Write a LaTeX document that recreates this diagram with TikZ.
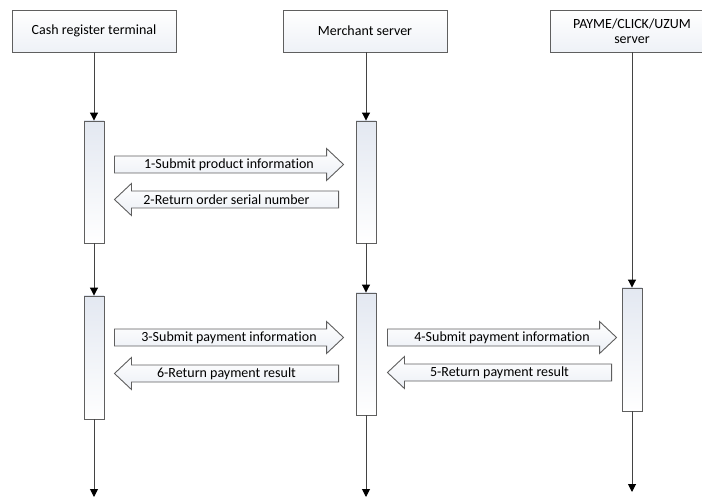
\documentclass[tikz,border=0pt]{standalone}
\usepackage{fontspec}
\setmainfont{Carlito}[Ligatures=NoCommon]
\usetikzlibrary{arrows.meta,calc}

\definecolor{edgegray}{HTML}{5F5F5F}
\definecolor{paleblue}{HTML}{E3E8F1}

% block arrow: start, tip, text, name
\newcommand{\msgarrow}[4]{%
  \draw[msg] let \p1=(#1), \p2=(#2), \n1={sign(\x2-\x1)} in
    (\x1,\y1+8.5pt) -- (\x2-\n1*17pt,\y1+8.5pt) -- (\x2-\n1*17pt,\y1+16pt)
    -- (\x2,\y1) -- (\x2-\n1*17pt,\y1-16pt) -- (\x2-\n1*17pt,\y1-8.5pt)
    -- (\x1,\y1-8.5pt) -- cycle;
  \node[msglabel] (#4) at ($(#1)!0.5!(#2)$) {#3};
}

\begin{document}
\begin{tikzpicture}[x=1pt, y=-1pt,
    head/.style={draw=edgegray, line width=0.9pt, top color=white, bottom color=paleblue!60,
      minimum width=164pt, minimum height=42pt, inner sep=0pt, align=center,
      font=\fontsize{14}{15.5}\selectfont},
    act/.style={draw=edgegray, line width=0.9pt, top color=paleblue, bottom color=white,
      minimum width=20pt, inner sep=0pt},
    life/.style={draw=edgegray!70!black, line width=1pt, -{Triangle[width=8pt,length=8pt,color=black]}},
    msg/.style={draw=edgegray, line width=0.9pt, top color=white, bottom color=paleblue!70},
    msglabel/.style={inner sep=0pt, font=\fontsize{14}{15.5}\selectfont}]
    \useasboundingbox (0,0) rectangle (702,497);

    % participants
    \node[head] (h1) at (94,31) {Cash register terminal};
    \node[head] (h2) at (365,31) {Merchant server};
    \node[head] (h3) at (632,31) {PAYME/CLICK/UZUM\\server};

    % activations
    \node[act, minimum height=122pt] (a1) at (94,182) {};
    \node[act, minimum height=123pt] (a2) at (94,357.5) {};
    \node[act, minimum height=122pt] (b1) at (366,182) {};
    \node[act, minimum height=122pt] (b2) at (366,354) {};
    \node[act, minimum height=123pt] (c1) at (632,349.5) {};

    \coordinate (e1) at (94,497);
    \coordinate (e2) at (366,497);
    \coordinate (e3) at (632,492);

    % lifelines
    \draw[life] (h1.south) -- (a1.north);
    \draw[life] (a1.south) -- (a2.north);
    \draw[life] (a2.south) -- (e1);
    \draw[life] (h2.south -| b1) -- (b1.north);
    \draw[life] (b1.south) -- (b2.north);
    \draw[life] (b2.south) -- (e2);
    \draw[life] (h3.south) -- (c1.north);
    \draw[life] (c1.south) -- (e3);

    % messages
    \msgarrow{$(a1.east|-0,164.5)+(10,0)$}{$(b1.west|-0,164.5)+(-12,0)$}{1-Submit product information}{m1}
    \msgarrow{$(b1.west|-0,199.5)+(-17,0)$}{$(a1.east|-0,199.5)+(10,0)$}{2-Return order serial number}{m2}
    \msgarrow{$(a2.east|-0,337.5)+(10,0)$}{$(b2.west|-0,337.5)+(-12,0)$}{3-Submit payment information}{m3}
    \msgarrow{$(b2.east|-0,337.5)+(11,0)$}{$(c1.west|-0,337.5)+(-5,0)$}{4-Submit payment information}{m4}
    \msgarrow{$(c1.west|-0,372.5)+(-10,0)$}{$(b2.east|-0,372.5)+(11,0)$}{5-Return payment result}{m5}
    \msgarrow{$(b2.west|-0,373.5)+(-17,0)$}{$(a2.east|-0,373.5)+(10,0)$}{6-Return payment result}{m6}
\end{tikzpicture}
\end{document}
